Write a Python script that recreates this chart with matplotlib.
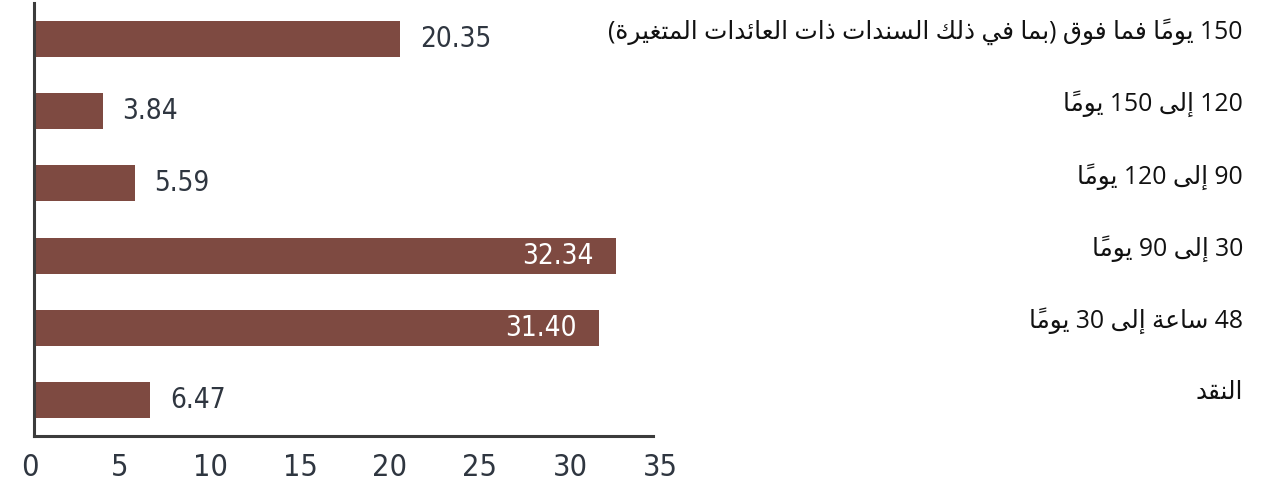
import re
import matplotlib
matplotlib.use('Agg')
import matplotlib.pyplot as plt
import matplotlib.transforms as mtransforms

# data (bottom to top)
categories = [
    'النقد',
    '48 ساعة إلى 30 يوماً',
    '30 إلى 90 يوماً',
    '90 إلى 120 يوماً',
    '120 إلى 150 يوماً',
    '150 يوماً فما فوق (بما في ذلك السندات ذات العائدات المتغيرة)',
]
values = [6.47, 31.40, 32.34, 5.59, 3.84, 20.35]
value_labels = ['6.47', '31.40', '32.34', '5.59', '3.84', '20.35']
x_ticks = [0, 5, 10, 15, 20, 25, 30, 35]

# matplotlib does no Arabic shaping or bidi, so map letters to presentation
# forms (isolated, final, initial, medial) and lay the line out right-to-left
FORMS = {
    'ا': (0xFE8D, 2), 'أ': (0xFE83, 2), 'إ': (0xFE87, 2), 'آ': (0xFE81, 2),
    'ئ': (0xFE89, 4), 'ب': (0xFE8F, 4), 'ة': (0xFE93, 2), 'ت': (0xFE95, 4),
    'ث': (0xFE99, 4), 'ج': (0xFE9D, 4), 'ح': (0xFEA1, 4), 'خ': (0xFEA5, 4),
    'د': (0xFEA9, 2), 'ذ': (0xFEAB, 2), 'ر': (0xFEAD, 2), 'ز': (0xFEAF, 2),
    'س': (0xFEB1, 4), 'ش': (0xFEB5, 4), 'ص': (0xFEB9, 4), 'ض': (0xFEBD, 4),
    'ط': (0xFEC1, 4), 'ظ': (0xFEC5, 4), 'ع': (0xFEC9, 4), 'غ': (0xFECD, 4),
    'ف': (0xFED1, 4), 'ق': (0xFED5, 4), 'ك': (0xFED9, 4), 'ل': (0xFEDD, 4),
    'م': (0xFEE1, 4), 'ن': (0xFEE5, 4), 'ه': (0xFEE9, 4), 'و': (0xFEED, 2),
    'ى': (0xFEEF, 2), 'ي': (0xFEF1, 4),
}
LAM_ALEF = {'ا': 0xFEFB, 'أ': 0xFEF7, 'إ': 0xFEF9, 'آ': 0xFEF5}
MARKS = set(chr(c) for c in range(0x064B, 0x0653))
MIRROR = {'(': ')', ')': '('}


def shape_run(run):
    clusters = []
    for ch in run:
        if ch in MARKS and clusters:
            clusters[-1][1] += ch
        else:
            clusters.append([ch, ''])
    merged = []
    i = 0
    while i < len(clusters):
        ch, mk = clusters[i]
        if ch == 'ل' and i + 1 < len(clusters) and clusters[i + 1][0] in LAM_ALEF:
            merged.append(['ل' + clusters[i + 1][0], mk + clusters[i + 1][1]])
            i += 2
        else:
            merged.append([ch, mk])
            i += 1
    out = []
    for i, (ch, mk) in enumerate(merged):
        prev = merged[i - 1][0] if i > 0 else None
        nxt = merged[i + 1][0] if i + 1 < len(merged) else None
        joins_prev = prev in FORMS and FORMS[prev][1] == 4
        if len(ch) == 2:
            glyph = chr(LAM_ALEF[ch[1]] + (1 if joins_prev else 0))
        elif ch in FORMS:
            base, n = FORMS[ch]
            joins_next = n == 4 and nxt is not None and (nxt in FORMS or len(nxt) == 2)
            if joins_prev and joins_next:
                idx = 3
            elif joins_prev:
                idx = 1
            elif joins_next:
                idx = 2
            else:
                idx = 0
            glyph = chr(base + idx)
        else:
            glyph = ch
        out.append(glyph + mk)
    return ''.join(reversed(out))


def rtl(text):
    tokens = re.findall(r'[\u0600-\u06FF]+|[0-9.,]+|.', text)
    out = []
    for t in reversed(tokens):
        if re.match(r'[\u0600-\u06FF]', t):
            out.append(shape_run(t))
        else:
            out.append(MIRROR.get(t, t))
    return ''.join(out)


bar_color = '#7E4A41'
text_dark = '#2f3640'

fig = plt.figure(figsize=(12.62, 4.88), dpi=100)
ax = fig.add_axes([34 / 1262, 52 / 488, (664 - 34) / 1262, (485 - 52) / 488])

y = list(range(len(categories)))
ax.barh(y, values, height=0.5, color=bar_color)

ax.set_xlim(0, 35)
ax.set_ylim(-0.5, 5.5)

for yi, v, lab in zip(y, values, value_labels):
    if v > 30:
        ax.annotate(lab, (v, yi), xytext=(-16, 0), textcoords='offset points',
                    ha='right', va='center', color='white', fontsize=20,
                    fontstretch='condensed')
    else:
        ax.annotate(lab, (v, yi), xytext=(14, 0), textcoords='offset points',
                    ha='left', va='center', color=text_dark, fontsize=20,
                    fontstretch='condensed')

# category labels on the right side
trans = mtransforms.blended_transform_factory(fig.transFigure, ax.transData)
for yi, cat in zip(y, categories):
    ax.text(1243 / 1262, yi + 0.1, rtl(cat), transform=trans, ha='right', va='center',
            fontsize=17.8, color='#111111', family=['Open Sans', 'DejaVu Sans'])

ax.set_yticks([])
ax.set_xticks(x_ticks)
ax.set_xticklabels([str(t) for t in x_ticks], fontsize=22, color=text_dark,
                   fontstretch='condensed')
ax.tick_params(axis='x', length=0, pad=12)
shift = mtransforms.ScaledTranslation(-4 / 100, 0, fig.dpi_scale_trans)
for lbl in ax.get_xticklabels():
    lbl.set_transform(lbl.get_transform() + shift)

for side in ['top', 'right']:
    ax.spines[side].set_visible(False)
for side in ['left', 'bottom']:
    ax.spines[side].set_color('#3c3c3c')
    ax.spines[side].set_linewidth(2.2)
ax.spines['bottom'].set_bounds(0, 34.4)

plt.savefig('out.png', dpi=100)
